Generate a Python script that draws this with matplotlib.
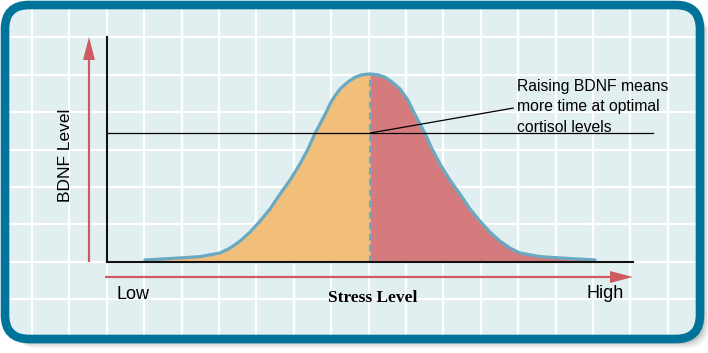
import matplotlib
matplotlib.use('Agg')
import matplotlib.pyplot as plt
from matplotlib.patches import FancyBboxPatch

# bell curve (stress 0-100, BDNF level 0-100)
stress = [7.2, 13.9, 17.7, 21.5, 23.4, 25.3, 27.2, 29.1, 31.0, 32.9, 34.8,
          36.7, 38.2, 39.5, 41.4, 42.8, 44.3, 45.8, 47.2, 48.5, 50.0,
          51.5, 52.8, 54.2, 55.7, 57.2, 58.6, 60.5, 61.8, 63.3, 65.2,
          67.1, 69.0, 70.9, 72.8, 74.7, 76.6, 78.5, 82.3, 86.1, 92.8]
bdnf = [0.9, 1.8, 2.4, 4.0, 6.2, 9.3, 13.3, 18.2, 23.6, 30.2, 36.4,
        43.6, 50.2, 56.9, 65.3, 72.0, 76.9, 80.0, 82.2, 83.2, 83.6,
        83.2, 82.2, 80.0, 76.9, 72.0, 65.3, 56.9, 50.2, 43.6, 36.4,
        30.2, 23.6, 18.2, 13.3, 9.3, 6.2, 4.0, 2.4, 1.8, 0.9]
peak = 50.0
optimal_level = 57.3
note_lines = ['Raising BDNF means', 'more time at optimal', 'cortisol levels']

W, H = 708, 353
fig = plt.figure(figsize=(W / 100, H / 100), dpi=100)
fig.patch.set_facecolor('white')

bg = fig.add_axes([0, 0, 1, 1])
bg.set_xlim(0, W)
bg.set_ylim(H, 0)
bg.axis('off')

# drop shadow
for off, a in [(9, 0.10), (7, 0.15), (5, 0.25)]:
    sh = FancyBboxPatch((5 + off, 5 + off), 695, 334,
                        boxstyle='round,pad=0,rounding_size=24',
                        fc='#7a7a7a', ec='none', alpha=a, zorder=0)
    bg.add_patch(sh)

panel = FancyBboxPatch((5, 5), 695, 334, boxstyle='round,pad=0,rounding_size=24',
                       fc='#e2eff0', ec='none', zorder=1)
bg.add_patch(panel)

# white grid
gx = 32
while gx < W:
    ln, = bg.plot([gx, gx], [0, H], color='white', lw=1.6, zorder=2)
    ln.set_clip_path(panel)
    gx += 37.4
gy = 37.4
while gy < H:
    ln, = bg.plot([0, W], [gy, gy], color='white', lw=1.6, zorder=2)
    ln.set_clip_path(panel)
    gy += 37.4

border = FancyBboxPatch((5, 5), 695, 334, boxstyle='round,pad=0,rounding_size=24',
                        fc='none', ec='#00739a', lw=6.2, zorder=10)
bg.add_patch(border)

red = '#cd5c62'
bg.arrow(89, 262, 0, -225, width=2.2, head_width=12, head_length=23,
         length_includes_head=True, fc=red, ec='none', zorder=3)
bg.arrow(105, 277, 528, 0, width=2.2, head_width=12, head_length=23,
         length_includes_head=True, fc=red, ec='none', zorder=3)

sans = ['Liberation Sans', 'DejaVu Sans']
bg.text(66, 155, 'BDNF Level', rotation=90, ha='center', va='center',
        fontsize=12.5, family=sans, zorder=4)
bg.text(116, 299, 'Low', ha='left', va='baseline', fontsize=13, family=sans, zorder=4)
bg.text(587, 298, 'High', ha='left', va='baseline', fontsize=13, family=sans, zorder=4)
bg.text(373, 302, 'Stress Level', ha='center', va='baseline', fontsize=12.5,
        family=['Liberation Serif', 'DejaVu Serif'], fontweight='bold', zorder=4)
for i, line in enumerate(note_lines):
    bg.text(517, 91 + 20.5 * i, line, ha='left', va='baseline', fontsize=11.3,
            family=sans, zorder=4)

# chart area
ax = fig.add_axes([107 / W, (H - 262) / H, 526 / W, 225 / H], zorder=5)
ax.patch.set_visible(False)
ax.set_xlim(0, 100)
ax.set_ylim(0, 100)
for s in ['top', 'right']:
    ax.spines[s].set_visible(False)
for s in ['left', 'bottom']:
    ax.spines[s].set_linewidth(1.5)
    ax.spines[s].set_color('#111111')
ax.set_xticks([])
ax.set_yticks([])

n = stress.index(peak)
ax.fill_between(stress[:n + 1], 0, bdnf[:n + 1], color='#f2bf7b', lw=0)
ax.fill_between(stress[n:], 0, bdnf[n:], color='#d57b7e', lw=0)
ax.plot(stress, bdnf, color='#69a9c1', lw=2.3, solid_joinstyle='round',
        solid_capstyle='round')
ax.plot([peak, peak], [0, bdnf[n]], color='#69a9c1', lw=2.2, dashes=(2.2, 1.4))

ax.plot([0, 103.8], [optimal_level, optimal_level], color='black', lw=0.9, clip_on=False)
ax.plot([peak, 77.2], [optimal_level, 68.4], color='black', lw=0.9, clip_on=False)

fig.savefig('out.png', dpi=100)
